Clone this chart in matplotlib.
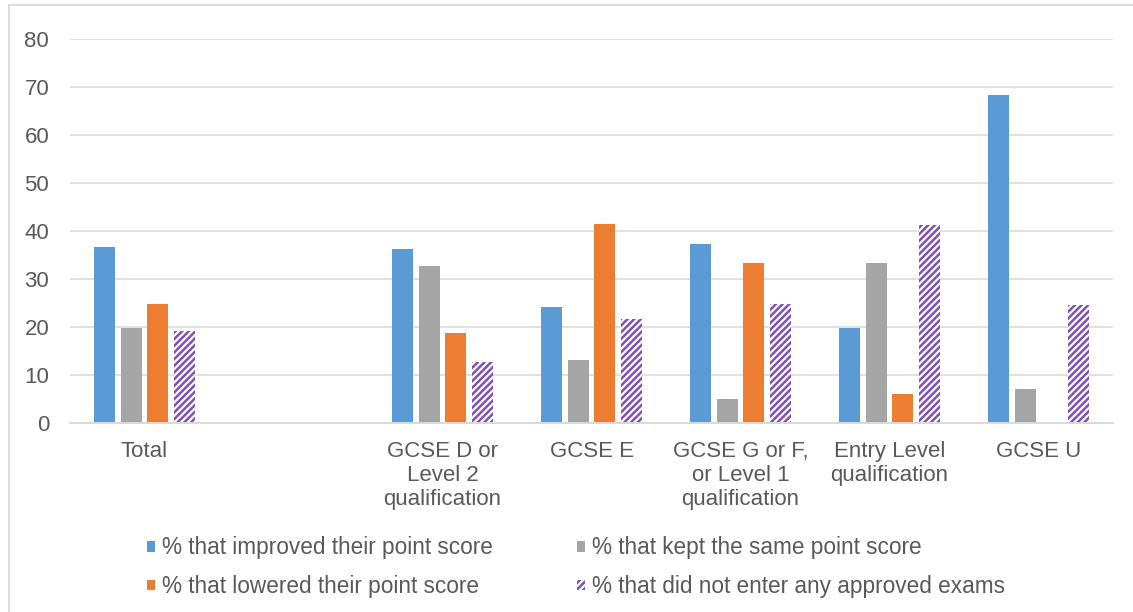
import matplotlib
matplotlib.use("Agg")
import matplotlib.pyplot as plt
import matplotlib.patches as mpatches
import numpy as np

categories = ["Total", "", "GCSE D or\nLevel 2\nqualification", "GCSE E",
              "GCSE G or F,\nor Level 1\nqualification", "Entry Level\nqualification", "GCSE U"]
improved = [36.6, np.nan, 36.2, 24.1, 37.2, 19.7, 68.3]
kept_same = [19.8, np.nan, 32.7, 13.2, 4.9, 33.3, 7.1]
lowered = [24.7, np.nan, 18.7, 41.5, 33.3, 6.0, 0.0]
no_exams = [19.2, np.nan, 12.8, 21.6, 24.8, 41.3, 24.6]

series_labels = ["% that improved their point score",
                 "% that kept the same point score",
                 "% that lowered their point score",
                 "% that did not enter any approved exams"]

plt.rcParams['font.family'] = ['Liberation Sans', 'DejaVu Sans']
plt.rcParams['hatch.linewidth'] = 1.8

fontsize = 16
text_col = '#595959'
grid_col = '#D9D9D9'

W, H = 1133, 612
fig = plt.figure(figsize=(W / 100, H / 100), dpi=100)
ax = fig.add_axes([70 / W, 1 - 423 / H, (1113 - 70) / W, (423 - 39) / H])

index = np.arange(len(categories))
bar_width = 0.141
step = 0.181

b1 = ax.bar(index - 1.5 * step, improved, bar_width, color='#5B9BD5', zorder=2, label=series_labels[0])
b2 = ax.bar(index - 0.5 * step, kept_same, bar_width, color='#A5A5A5', zorder=2, label=series_labels[1])
b3 = ax.bar(index + 0.5 * step, lowered, bar_width, color='#ED7D31', zorder=2, label=series_labels[2])
b4 = ax.bar(index + 1.5 * step, no_exams, bar_width, color='white', edgecolor='#8050B8',
            hatch='/////', linewidth=0, zorder=2, label=series_labels[3])

ax.set_xlim(-0.5, len(categories) - 0.5)
ax.set_ylim(0, 80)
ax.set_yticks(np.arange(0, 81, 10))
ax.set_xticks(index)
ax.set_xticklabels(categories)
ax.tick_params(axis='both', length=0, labelsize=fontsize, labelcolor=text_col)
ax.tick_params(axis='y', pad=15)
ax.tick_params(axis='x', pad=13)

ax.grid(axis='y', color=grid_col, linewidth=1.1, zorder=1)
ax.set_axisbelow(True)
for side in ['top', 'right', 'left']:
    ax.spines[side].set_visible(False)
ax.spines['bottom'].set_color(grid_col)
ax.spines['bottom'].set_linewidth(1.4)

# legend fills by column, so order handles to read row by row
leg = fig.legend(handles=[b1, b3, b2, b4], ncol=2, loc='upper left',
                 bbox_to_anchor=(136 / W, 1 - 525 / H), frameon=False,
                 fontsize=16.3, borderpad=0, handlelength=0.36, handleheight=0.36,
                 handletextpad=0.3, columnspacing=3.7, labelspacing=0.7)
for t in leg.get_texts():
    t.set_color(text_col)

# outer chart border (cut off at right and bottom)
fig.patches.append(mpatches.Rectangle((8.5 / W, -0.1), 1.2, 1.1 - 5 / H, transform=fig.transFigure,
                                      fill=False, edgecolor=grid_col, linewidth=1.3, zorder=0))

fig.savefig("out.png", dpi=100)
